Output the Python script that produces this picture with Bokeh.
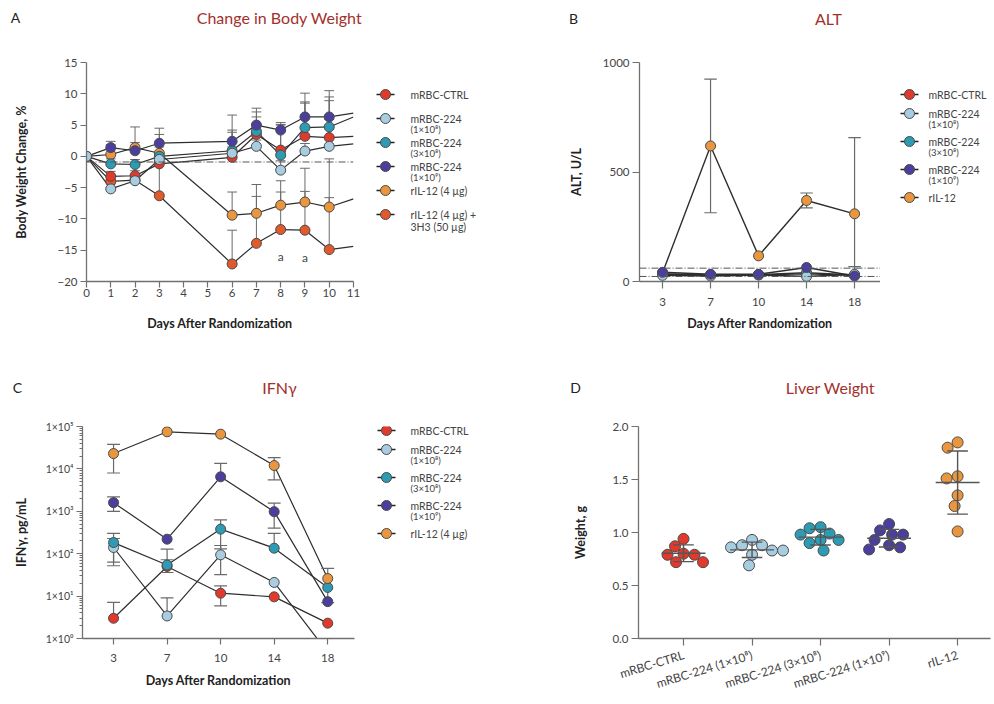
import math
import numpy as np
from bokeh.plotting import figure
from bokeh.layouts import row, column
from bokeh.models import Label, FixedTicker, Span
from bokeh.embed import file_html
from bokeh.resources import INLINE
from bokeh.core.properties import value

FONT = "Lato"
TITLE_COLOR = "#a3302d"
AXIS_COLOR = "#707070"
LINE_COLOR = "#2e2e2e"
ERR_COLOR = "#6a6a6a"
EDGE_COLOR = "#4a4a4a"
TEXT_COLOR = "#444444"

COLORS = ["#e2392d", "#a9cde0", "#2d9bb3", "#4b3f9e", "#e9963e", "#e15a2b"]

# ---------------- Panel A: Change in Body Weight ----------------
bw_days = [0, 1, 2, 3, 6, 7, 8, 9, 10, 11]
bw_ctrl = [0, -3.2, -3.1, -1.2, -0.15, 3.5, 1.0, 3.2, 3.0, 3.2]
bw_1e8 = [0, -5.2, -3.9, -0.5, 0.5, 1.6, -2.2, 0.85, 1.6, 2.0]
bw_3e8 = [0, -1.2, -1.3, 0.0, 0.9, 4.0, 0.2, 4.6, 4.7, 6.3]
bw_1e9 = [0, 1.4, 0.9, 2.1, 2.4, 5.0, 4.2, 6.3, 6.3, 6.9]
bw_il12 = [0, 0.3, 1.4, 0.5, -9.4, -9.1, -7.8, -7.3, -8.1, -6.8]
bw_3h3 = [0, -4.0, -3.8, -6.3, -17.2, -13.9, -11.7, -11.8, -14.9, -14.4]
# upper error (days 0..10)
bw_ctrl_err = [0, 0.8, 0.8, 1.0, 4.0, 2.8, 4.0, 5.3, 5.9]
bw_1e8_err = [0, 0.8, 0.8, 1.0, 1.0, 1.0, 1.5, 1.2, 4.3]
bw_3e8_err = [0, 0.8, 0.8, 3.5, 3.3, 3.1, 4.9, 4.1, 4.8]
bw_1e9_err = [0, 1.0, 3.8, 2.4, 4.2, 2.7, 1.2, 3.8, 4.2]
bw_il12_err = [0, 1.6, 0.8, 1.0, 3.7, 4.6, 3.9, 5.4, 7.7]
bw_3h3_err = [0, 0.8, 0.8, 6.0, 5.4, 7.5, 6.0, 6.2, 8.3]
bw_baseline = -0.9
bw_sig_days = [8, 9]
bw_sig_text = "a"
bw_y_ticks = [-20, -15, -10, -5, 0, 5, 10, 15]
bw_x_ticks = list(range(0, 12))

# ---------------- Panel B: ALT ----------------
alt_day_labels = ["3", "7", "10", "14", "18"]
alt_ctrl = [33, 30, 30, 35, 28]
alt_1e8 = [28, 25, 30, 23, 33]
alt_3e8 = [35, 30, 32, 40, 30]
alt_1e9 = [42, 33, 33, 64, 25]
alt_il12 = [40, 619, 117, 370, 309]
alt_ctrl_sd = [0, 0, 0, 0, 0]
alt_1e8_sd = [0, 0, 0, 0, 35]
alt_3e8_sd = [0, 0, 0, 0, 0]
alt_1e9_sd = [0, 0, 0, 0, 0]
alt_il12_sd = [0, 305, 0, 34, 348]
alt_ref_lines = [61, 23]
alt_y_ticks = [0, 500, 1000]

# ---------------- Panel C: IFNγ ----------------
ifn_day_labels = ["3", "7", "10", "14", "18"]
ifn_ctrl = [3.0, 50, 11.7, 9.6, 2.3]
ifn_1e8 = [140, 3.4, 94, 21, 0.47]
ifn_3e8 = [183, 54, 380, 135, 16]
ifn_1e9 = [1600, 220, 6500, 980, 7.4]
ifn_il12 = [23000, 75000, 66000, 12000, 26]
ifn_ctrl_sd = [4.1, 78, 5.8, 0, 0]
ifn_1e8_sd = [88, 5.7, 62, 0, 0]
ifn_3e8_sd = [120, 18, 250, 165, 0]
ifn_1e9_sd = [600, 0, 7000, 580, 0]
ifn_il12_sd = [15000, 0, 0, 6500, 19]
ifn_ticks = [1, 10, 100, 1000, 10000, 100000]
ifn_tick_labels = ["1×10⁰", "1×10¹", "1×10²", "1×10³", "1×10⁴", "1×10⁵"]

# ---------------- Panel D: Liver Weight ----------------
lw_labels = ["mRBC-CTRL", "mRBC-224 (1×10⁸)", "mRBC-224 (3×10⁸)", "mRBC-224 (1×10⁹)", "rIL-12"]
lw_ctrl = [0.94, 0.80, 0.79, 0.72, 0.72, 0.79, 0.87]
lw_1e8 = [0.93, 0.88, 0.86, 0.83, 0.88, 0.79, 0.69, 0.83]
lw_3e8 = [1.05, 1.04, 0.93, 0.99, 0.98, 0.90, 0.83, 0.93]
lw_1e9 = [1.08, 1.02, 0.98, 0.98, 0.88, 0.93, 0.84, 0.86]
lw_il12 = [1.85, 1.80, 1.51, 1.53, 1.35, 1.25, 1.01]
lw_y_ticks = [0.0, 0.5, 1.0, 1.5, 2.0]

# panel headings
panel_letters = ["A", "B", "C", "D"]
panel_titles = ["Change in Body Weight", "ALT", "IFNγ", "Liver Weight"]

# legend texts
leg_a = [["mRBC-CTRL"], ["mRBC-224", "(1×10⁸)"], ["mRBC-224", "(3×10⁸)"],
         ["mRBC-224", "(1×10⁹)"], ["rIL-12 (4 µg)"], ["rIL-12 (4 µg) +", "3H3 (50 µg)"]]
leg_b = [["mRBC-CTRL"], ["mRBC-224", "(1×10⁸)"], ["mRBC-224", "(3×10⁸)"],
         ["mRBC-224", "(1×10⁹)"], ["rIL-12"]]
leg_c = [["mRBC-CTRL"], ["mRBC-224", "(1×10⁸)"], ["mRBC-224", "(3×10⁸)"],
         ["mRBC-224", "(1×10⁹)"], ["rIL-12 (4 µg)"]]


# ---------------- helpers ----------------
def style_axes(p, label_standoff_x=1, label_standoff_y=3, tick_out=6):
    for ax in p.axis:
        ax.axis_line_color = AXIS_COLOR
        ax.axis_line_width = 1.3
        ax.major_tick_line_color = AXIS_COLOR
        ax.major_tick_line_width = 1.2
        ax.major_tick_out = tick_out
        ax.major_tick_in = 0
        ax.minor_tick_line_color = None
        ax.major_label_text_font = FONT
        ax.major_label_text_font_size = "11.5px"
        ax.major_label_text_color = TEXT_COLOR
        ax.axis_label_text_font = FONT
        ax.axis_label_text_font_style = "bold"
        ax.axis_label_text_font_size = "12.5px"
        ax.axis_label_text_color = "#222222"
    p.xaxis.major_label_standoff = label_standoff_x
    p.yaxis.major_label_standoff = label_standoff_y


def make_fig(w, h, origin, frame, xr, yr, y_axis_type="linear"):
    ox, oy = origin
    l, t, r, b = frame
    p = figure(width=w, height=h, x_range=xr, y_range=yr, y_axis_type=y_axis_type,
               toolbar_location=None, output_backend="svg",
               min_border_left=l - ox, min_border_right=ox + w - r,
               min_border_top=t - oy, min_border_bottom=oy + h - b)
    p.outline_line_color = None
    p.xgrid.grid_line_color = None
    p.ygrid.grid_line_color = None
    p.background_fill_color = "white"
    p.border_fill_color = "white"
    return p


def blank_fig(w, h, origin, top, bottom):
    # frame covers [top, bottom] (page px), full width; ranges are page pixels
    ox, oy = origin
    p = figure(width=w, height=h, x_range=(ox, ox + w), y_range=(bottom, top),
               min_border_left=0, min_border_right=0,
               min_border_top=top - oy, min_border_bottom=oy + h - bottom,
               toolbar_location=None, output_backend="svg",
               x_axis_location=None, y_axis_location=None)
    p.outline_line_color = None
    p.xgrid.grid_line_color = None
    p.ygrid.grid_line_color = None
    return p


def legend_fig(w, h, origin, top, bottom, labels, mx, tx, y0, step1, step2):
    p = blank_fig(w, h, origin, top, bottom)
    ys = []
    y = y0
    for lines in labels:
        ys.append(y)
        y += step1 if len(lines) == 1 else step2
    n = len(labels)
    p.segment(x0=[mx - 9] * n, y0=ys, x1=[mx + 9] * n, y1=ys, line_color="#222222", line_width=1.6)
    p.scatter(x=[mx] * n, y=ys, size=10, fill_color=COLORS[:n], line_color=EDGE_COLOR, line_width=1)
    tx1, ty1, tt1, tx2, ty2, tt2 = [], [], [], [], [], []
    for yy, lines in zip(ys, labels):
        tx1.append(tx)
        ty1.append(yy)
        tt1.append(lines[0])
        for s in lines[1:]:
            if s.startswith("("):
                tx2.append(tx)
                ty2.append(yy + 11)
                tt2.append(s)
            else:
                tx1.append(tx)
                ty1.append(yy + 12)
                tt1.append(s)
    p.text(x=tx1, y=ty1, text=tt1, text_font=value(FONT), text_font_size="10.5px",
           text_baseline="middle", text_color=TEXT_COLOR)
    p.text(x=tx2, y=ty2, text=tt2, text_font=value(FONT), text_font_size="9.5px",
           text_baseline="middle", text_color=TEXT_COLOR)
    return p


def heading_fig(w, h, origin, items):
    ox, oy = origin
    p = blank_fig(w, h, origin, oy, oy + h)
    for (px, py, txt, kind) in items:
        if kind == "letter":
            p.text(x=[px], y=[py], text=[txt], text_font=value(FONT), text_font_size="14px",
                   text_color="#222222", text_align="center", text_baseline="middle")
        else:
            p.text(x=[px], y=[py], text=[txt], text_font=value(FONT), text_font_size="16px",
                   text_color=TITLE_COLOR, text_align="center", text_baseline="middle")
    return p


def beeswarm(vals, px_per_x, px_per_y, diam):
    placed = []
    res = [0.0] * len(vals)
    order = sorted(range(len(vals)), key=lambda i: -vals[i])
    for i in order:
        yy = vals[i] * px_per_y
        found = None
        for step in range(0, 400):
            for sgn in ([1] if step == 0 else [-1, 1]):
                xx = sgn * step * 0.5
                if all((xx - a) ** 2 + (yy - b) ** 2 >= diam ** 2 for a, b in placed):
                    found = xx
                    break
            if found is not None:
                break
        placed.append((found, yy))
        res[i] = found / px_per_x
    return res


# ---------------- layout geometry (page px) ----------------
R1_Y, R1_H = 45, 310
R2_Y, R2_H = 400, 302
R1_T, R1_B = 62, 281
R2_T, R2_B = 426, 638

# ---------------- headings ----------------
head1 = heading_fig(994, R1_Y, (0, 0), [(15, 17, panel_letters[0], "letter"),
                                        (279, 17, panel_titles[0], "title"),
                                        (573, 18, panel_letters[1], "letter"),
                                        (828, 18, panel_titles[1], "title")])
head2 = heading_fig(994, R2_Y - (R1_Y + R1_H), (0, R1_Y + R1_H),
                    [(17, 387, panel_letters[2], "letter"),
                     (279, 387, panel_titles[2], "title"),
                     (575, 387, panel_letters[3], "letter"),
                     (830, 387, panel_titles[3], "title")])

# ---------------- Panel A ----------------
pa = make_fig(370, R1_H, (0, R1_Y), (86, R1_T, 353, R1_B), (0, 11), (-20, 15))
style_axes(pa, label_standoff_x=1, label_standoff_y=3)
pa.xaxis.ticker = FixedTicker(ticks=bw_x_ticks)
pa.yaxis.ticker = FixedTicker(ticks=bw_y_ticks)
pa.xaxis.axis_label = "Days After Randomization"
pa.yaxis.axis_label = "Body Weight Change, %"
pa.xaxis.axis_label_standoff = 16
pa.yaxis.axis_label_standoff = 25
pa.add_layout(Span(location=bw_baseline, dimension="width", line_color="#555555",
                   line_width=1, line_dash="7 2 1 2"))
bw_all = [bw_ctrl, bw_1e8, bw_3e8, bw_1e9, bw_il12, bw_3h3]
bw_errs = [bw_ctrl_err, bw_1e8_err, bw_3e8_err, bw_1e9_err, bw_il12_err, bw_3h3_err]
order_a = [5, 4, 0, 2, 3, 1]
for i in order_a:
    pa.line(bw_days, bw_all[i], line_color=LINE_COLOR, line_width=1.2)
for i in order_a:
    d = np.array(bw_days[:-1], dtype=float)
    v = np.array(bw_all[i][:-1], dtype=float)
    top = v + np.array(bw_errs[i])
    pa.segment(x0=d, y0=v, x1=d, y1=top, line_color=ERR_COLOR, line_width=1)
    pa.segment(x0=d - 0.2, y0=top, x1=d + 0.2, y1=top, line_color=ERR_COLOR, line_width=1)
for i in order_a:
    pa.scatter(bw_days[:-1], bw_all[i][:-1], size=10, fill_color=COLORS[i],
               line_color=EDGE_COLOR, line_width=1)
for dday in bw_sig_days:
    k = bw_days.index(dday)
    pa.add_layout(Label(x=dday, y=bw_3h3[k], y_offset=-27, text=bw_sig_text, text_font=FONT,
                        text_font_size="12px", text_color=TEXT_COLOR,
                        text_align="center", text_baseline="middle"))

leg_fig_a = legend_fig(190, R1_H, (370, R1_Y), R1_T, R1_B, leg_a, 385, 410, 94, 24, 24)

# ---------------- Panel B ----------------
pb = make_fig(320, R1_H, (560, R1_Y), (639, R1_T, 880, R1_B), (-0.48, 4.54), (0, 1000))
style_axes(pb, label_standoff_x=9, label_standoff_y=3, tick_out=7)
pb.xaxis.ticker = FixedTicker(ticks=list(range(len(alt_day_labels))))
pb.xaxis.major_label_overrides = {i: s for i, s in enumerate(alt_day_labels)}
pb.yaxis.ticker = FixedTicker(ticks=alt_y_ticks)
pb.xaxis.axis_label = "Days After Randomization"
pb.yaxis.axis_label = "ALT, U/L"
pb.xaxis.axis_label_standoff = 7
pb.yaxis.axis_label_standoff = 16
for ref in alt_ref_lines:
    pb.add_layout(Span(location=ref, dimension="width", line_color="#555555",
                       line_width=1, line_dash="7 2 1 2"))
alt_all = [alt_ctrl, alt_1e8, alt_3e8, alt_1e9, alt_il12]
alt_sds = [alt_ctrl_sd, alt_1e8_sd, alt_3e8_sd, alt_1e9_sd, alt_il12_sd]
xb = np.arange(len(alt_day_labels), dtype=float)
order_b = [4, 0, 2, 1, 3]
for i in order_b:
    pb.line(xb, alt_all[i], line_color=LINE_COLOR, line_width=1.4)
for i in order_b:
    v = np.array(alt_all[i], dtype=float)
    s = np.array(alt_sds[i], dtype=float)
    m = s > 0
    pb.segment(x0=xb[m], y0=v[m] - s[m], x1=xb[m], y1=v[m] + s[m], line_color=ERR_COLOR, line_width=1.2)
    for sign in (1, -1):
        yy = v[m] + sign * s[m]
        pb.segment(x0=xb[m] - 0.13, y0=yy, x1=xb[m] + 0.13, y1=yy, line_color=ERR_COLOR, line_width=1.2)
for i in order_b:
    pb.scatter(xb, alt_all[i], size=10, fill_color=COLORS[i], line_color=EDGE_COLOR, line_width=1)

leg_fig_b = legend_fig(114, R1_H, (880, R1_Y), R1_T, R1_B, leg_b, 909, 928, 94, 19, 28)

# ---------------- Panel C ----------------
pc = make_fig(370, R2_H, (0, R2_Y), (82, R2_T, 354, R2_B), (-0.58, 4.5), (1, 100000), y_axis_type="log")
style_axes(pc, label_standoff_x=9, label_standoff_y=3)
pc.xaxis.ticker = FixedTicker(ticks=list(range(len(ifn_day_labels))))
pc.xaxis.major_label_overrides = {i: s for i, s in enumerate(ifn_day_labels)}
minor = [m * 10 ** k for k in range(5) for m in range(2, 10)]
pc.yaxis.ticker = FixedTicker(ticks=ifn_ticks, minor_ticks=minor)
pc.yaxis.major_label_overrides = {t: s for t, s in zip(ifn_ticks, ifn_tick_labels)}
pc.yaxis.minor_tick_line_color = AXIS_COLOR
pc.yaxis.minor_tick_out = 3
pc.yaxis.minor_tick_in = 0
pc.yaxis.major_label_text_font_size = "10.5px"
pc.xaxis.axis_label = "Days After Randomization"
pc.yaxis.axis_label = "IFNγ, pg/mL"
pc.xaxis.axis_label_standoff = 8
pc.yaxis.axis_label_standoff = 14
ifn_all = [ifn_ctrl, ifn_1e8, ifn_3e8, ifn_1e9, ifn_il12]
ifn_sds = [ifn_ctrl_sd, ifn_1e8_sd, ifn_3e8_sd, ifn_1e9_sd, ifn_il12_sd]
xc = np.arange(len(ifn_day_labels), dtype=float)
order_c = [0, 1, 2, 3, 4]
for i in order_c:
    pc.line(xc, ifn_all[i], line_color=LINE_COLOR, line_width=1.2)
for i in order_c:
    v = np.array(ifn_all[i], dtype=float)
    s = np.array(ifn_sds[i], dtype=float)
    m = s > 0
    lo = v[m] - s[m]
    hi = v[m] + s[m]
    lo_ok = lo > 0
    pc.segment(x0=xc[m], y0=np.where(lo_ok, lo, v[m]), x1=xc[m], y1=hi, line_color=ERR_COLOR, line_width=1.2)
    pc.segment(x0=xc[m] - 0.12, y0=hi, x1=xc[m] + 0.12, y1=hi, line_color=ERR_COLOR, line_width=1.2)
    pc.segment(x0=xc[m][lo_ok] - 0.12, y0=lo[lo_ok], x1=xc[m][lo_ok] + 0.12, y1=lo[lo_ok],
               line_color=ERR_COLOR, line_width=1.2)
for i in order_c:
    pc.scatter(xc, ifn_all[i], size=10, fill_color=COLORS[i], line_color=EDGE_COLOR, line_width=1)

leg_fig_c = legend_fig(190, R2_H, (370, R2_Y), R2_T, R2_B, leg_c, 386, 410, 430, 19, 28)

# ---------------- Panel D ----------------
pd_ = make_fig(434, R2_H, (560, R2_Y), (638, R2_T, 990, R2_B), (-0.657, 4.48), (0, 2))
style_axes(pd_, label_standoff_x=9, label_standoff_y=3, tick_out=7)
pd_.xaxis.ticker = FixedTicker(ticks=list(range(len(lw_labels))))
pd_.xaxis.major_label_overrides = {i: s for i, s in enumerate(lw_labels)}
pd_.xaxis.major_label_orientation = math.radians(17)
pd_.xaxis.major_label_text_font_size = "12px"
pd_.yaxis.ticker = FixedTicker(ticks=lw_y_ticks)
pd_.yaxis.major_label_overrides = {t: f"{t:.1f}" for t in lw_y_ticks}
pd_.yaxis.axis_label = "Weight, g"
pd_.yaxis.axis_label_standoff = 21
lw_all = [lw_ctrl, lw_1e8, lw_3e8, lw_1e9, lw_il12]
lw_colors = [COLORS[0], COLORS[1], COLORS[2], COLORS[3], COLORS[4]]
px_x = (990 - 638) / (4.48 + 0.657)
px_y = (R2_B - R2_T) / 2.0
for gi, vals in enumerate(lw_all):
    offs = beeswarm(vals, px_x, px_y, 11.0)
    xs = [gi + o for o in offs]
    pd_.scatter(xs, vals, size=11, fill_color=lw_colors[gi], line_color=EDGE_COLOR, line_width=1)
    mean = float(np.mean(vals))
    sd = float(np.std(vals, ddof=1))
    pd_.segment(x0=[gi - 0.32], y0=[mean], x1=[gi + 0.32], y1=[mean], line_color="#555555", line_width=1.4)
    pd_.segment(x0=[gi], y0=[mean - sd], x1=[gi], y1=[mean + sd], line_color="#555555", line_width=1.4)
    pd_.segment(x0=[gi - 0.15, gi - 0.15], y0=[mean - sd, mean + sd], x1=[gi + 0.15, gi + 0.15],
                y1=[mean - sd, mean + sd], line_color="#555555", line_width=1.4)

layout = column(head1, row(pa, leg_fig_a, pb, leg_fig_b), head2, row(pc, leg_fig_c, pd_))
open("out.html", "w").write(file_html(layout, INLINE))
